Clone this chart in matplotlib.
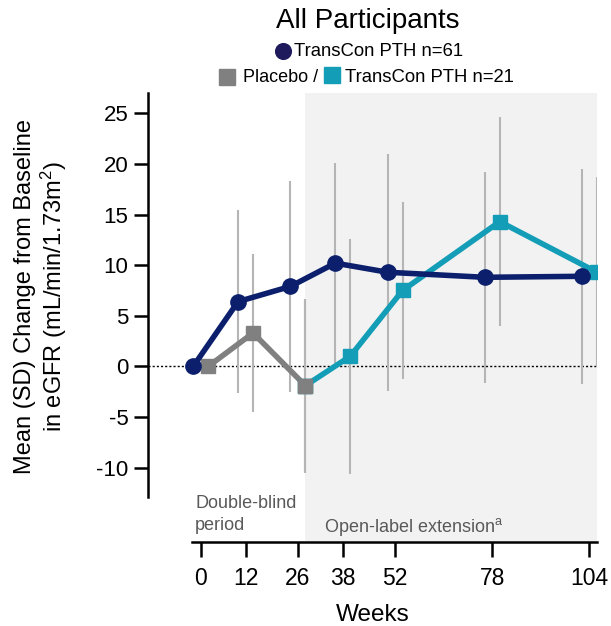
import matplotlib
matplotlib.use("Agg")
import matplotlib.pyplot as plt
from matplotlib.lines import Line2D
import numpy as np

plt.rcParams["font.family"] = ["Liberation Sans", "DejaVu Sans"]
plt.rcParams["mathtext.fontset"] = "custom"
plt.rcParams["mathtext.rm"] = "Liberation Sans"
plt.rcParams["mathtext.it"] = "Liberation Sans"

# data (weeks, mean change, SD)
WEEKS_PTH = [0, 12, 26, 38, 52, 78, 104]
MEAN_PTH = [0.0, 6.4, 7.9, 10.2, 9.3, 8.8, 8.9]
SD_PTH = [0.0, 9.0, 10.4, 9.9, 11.7, 10.4, 10.6]

WEEKS_PBO = [0, 12, 26]
MEAN_PBO = [0.0, 3.3, -1.9]
SD_PBO = [0.0, 7.8, 8.6]

WEEKS_OLE = [26, 38, 52, 78, 104]
MEAN_OLE = [-1.9, 1.0, 7.5, 14.3, 9.3]
SD_OLE = [8.6, 11.6, 8.7, 10.3, 9.4]

XTICKS = [0, 12, 26, 38, 52, 78, 104]
YTICKS = [-10, -5, 0, 5, 10, 15, 20, 25]

NAVY = "#0B1F6C"
TEAL = "#139DB6"
GRAY = "#808080"
ERR = "#B5B5B5"
SHADE = "#F2F2F2"
DODGE = 2  # horizontal offset so groups don't overlap

fig = plt.figure(figsize=(6.11, 6.26), dpi=100)
ax = fig.add_axes([0.2422, 0.1342, 0.7354, 0.7172])

ax.set_xlim(-14.1, 106.1)
ax.set_ylim(-17.34, 27.0)

ax.axvspan(26 + DODGE, 106, color=SHADE, lw=0, zorder=0)
ax.plot([-14.1, 106], [0, 0], ls=(0, (1.5, 1.5)), color="black", lw=1, zorder=1)

x_pth = np.array(WEEKS_PTH) - DODGE
x_pbo = np.array(WEEKS_PBO) + DODGE
x_ole = np.array(WEEKS_OLE) + DODGE

for xs, m, s in [(x_pth, MEAN_PTH, SD_PTH), (x_pbo, MEAN_PBO, SD_PBO), (x_ole, MEAN_OLE, SD_OLE)]:
    m = np.array(m)
    s = np.array(s)
    keep = s > 0
    ax.vlines(xs[keep], (m - s)[keep], (m + s)[keep], color=ERR, lw=1.5, zorder=2)

ax.plot(x_pbo, MEAN_PBO, color=GRAY, lw=4, marker="s", ms=10, zorder=3)
ax.plot(x_ole, MEAN_OLE, color=TEAL, lw=4, marker="s", ms=10, zorder=4)
ax.plot(x_ole[:1], MEAN_OLE[:1], color=GRAY, marker="s", ms=10, lw=0, zorder=5)
ax.plot(x_pth, MEAN_PTH, color=NAVY, lw=4, marker="o", ms=11, zorder=6)

for side in ["top", "right"]:
    ax.spines[side].set_visible(False)
ax.spines["left"].set_linewidth(1.8)
ax.spines["bottom"].set_linewidth(1.8)
ax.spines["left"].set_bounds(-12.9, 27.0)
ax.spines["bottom"].set_bounds(-2.4, 106.1)

ax.set_yticks(YTICKS)
ax.set_yticklabels([str(v) for v in YTICKS])
ax.set_xticks(XTICKS)
ax.set_xticklabels([str(v) for v in XTICKS])
ax.tick_params(axis="y", length=10, width=1.8, pad=4, labelsize=16)
ax.tick_params(axis="x", length=11, width=1.8, pad=7, labelsize=16.5)

ax.set_xlabel("Weeks", fontsize=17.5, labelpad=10)

fig.text(0.068, 0.526, "Mean (SD) Change from Baseline\nin eGFR (mL/min/1.73m$^{2}$)",
         rotation=90, ha="center", va="center", multialignment="center",
         fontsize=17, linespacing=1.15)

ax.text(-1.5, -14.6, "Double-blind\nperiod", fontsize=13, color="#595959",
        ha="left", va="center", linespacing=1.35)
ax.text(33.0, -15.9, "Open-label extension$^{\\mathrm{a}}$", fontsize=13,
        color="#595959", ha="left", va="center")

# title and legend
W, H = 611, 626
fig.text(367.5 / W, 1 - 21 / H, "All Participants", fontsize=20, ha="center", va="center")
fig.add_artist(Line2D([282.7 / W], [1 - 50.7 / H], marker="o", ms=11.3, color="#1F1A5C",
                      lw=0, transform=fig.transFigure))
fig.text(294 / W, 1 - 51 / H, "TransCon PTH n=61", fontsize=13.3, ha="left", va="center")
fig.add_artist(Line2D([226.7 / W], [1 - 77 / H], marker="s", ms=11, color=GRAY,
                      lw=0, transform=fig.transFigure))
fig.text(243 / W, 1 - 77.5 / H, "Placebo /", fontsize=13, ha="left", va="center")
fig.add_artist(Line2D([332 / W], [1 - 75 / H], marker="s", ms=11, color=TEAL,
                      lw=0, transform=fig.transFigure))
fig.text(345 / W, 1 - 77.5 / H, "TransCon PTH n=21", fontsize=13.3, ha="left", va="center")

fig.savefig("out.png", dpi=100)
